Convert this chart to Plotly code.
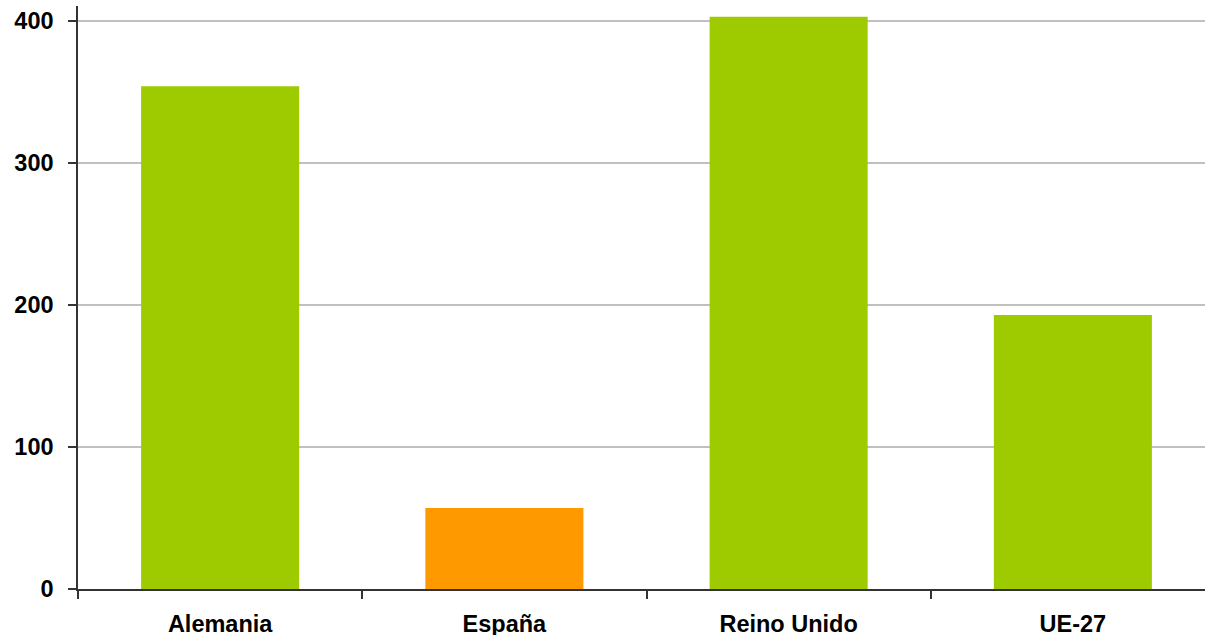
import plotly.graph_objects as go

categories = ["Alemania", "España", "Reino Unido", "UE-27"]
values = [354, 57, 403, 193]
colors = ["#9ECB00", "#FF9900", "#9ECB00", "#9ECB00"]
tick_vals = [0, 100, 200, 300, 400]

fig = go.Figure(go.Bar(x=categories, y=values, marker=dict(color=colors, line=dict(width=0)), width=0.556))

fig.update_layout(
    width=1215, height=635,
    margin=dict(l=78, r=0, t=6, b=46),
    paper_bgcolor="white", plot_bgcolor="white",
    font=dict(family="Liberation Sans, Arial, sans-serif", size=23, color="black"),
    showlegend=False,
    bargap=0.44,
)
fig.update_yaxes(
    range=[0, 410.5], tickvals=tick_vals, tickfont=dict(size=23.5, family="Liberation Sans", weight="bold"),
    showgrid=True, gridcolor="#C0C0C0", gridwidth=1.5,
    showline=True, linecolor="#333333", linewidth=1.5,
    ticks="outside", ticklen=8, tickcolor="#333333", tickwidth=1.5,
    zeroline=False, ticklabelstandoff=10, automargin=False,
)
fig.update_xaxes(
    tickfont=dict(size=23.5, family="Liberation Sans", weight="bold"),
    showline=True, linecolor="#333333", linewidth=1.5,
    ticks="outside", ticklen=8, tickcolor="#333333", tickwidth=1.5,
    tickson="boundaries", ticklabelstandoff=13, automargin=False,
)
fig.write_html(
    "out.html",
    config={"displayModeBar": False},
    post_script="document.body.style.margin='0';document.body.style.overflow='hidden';",
)
